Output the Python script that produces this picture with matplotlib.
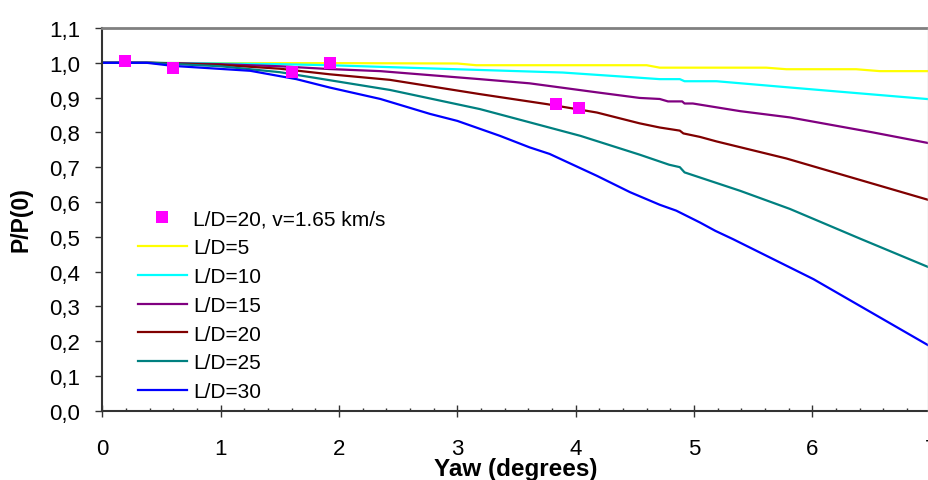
import matplotlib
matplotlib.use("Agg")
import matplotlib.pyplot as plt
from matplotlib.ticker import FuncFormatter, MultipleLocator
from matplotlib.lines import Line2D

plt.rcParams['font.family'] = ['Liberation Sans', 'DejaVu Sans']

# ---- data ----
exp_x = [0.19, 0.60, 1.60, 1.92, 3.83, 4.03]
exp_y = [1.005, 0.985, 0.973, 0.999, 0.881, 0.870]

x5 = [0, 1.0, 2.0, 3.0, 3.16, 4.6, 4.71, 5.61, 5.78, 6.37, 6.57, 7.0]
y5 = [1.0, 0.999, 0.999, 0.998, 0.993, 0.993, 0.986, 0.986, 0.9815, 0.9815, 0.976, 0.976]

x10 = [0, 0.4, 1.0, 1.5, 1.92, 3.13, 3.89, 4.54, 4.71, 4.88, 4.92, 5.19, 5.81, 7.0]
y10 = [1.0, 1.0, 0.998, 0.996, 0.993, 0.98, 0.972, 0.957, 0.953, 0.953, 0.947, 0.947, 0.929, 0.895]

x15 = [0, 0.4, 1.0, 1.5, 1.92, 2.35, 3.19, 3.61, 4.18, 4.54, 4.71, 4.78, 4.9, 4.92, 4.99, 5.39, 5.81, 6.51, 7.0]
y15 = [1.0, 1.0, 0.996, 0.99, 0.982, 0.976, 0.953, 0.941, 0.915, 0.899, 0.896, 0.889, 0.889, 0.883, 0.883, 0.861, 0.843, 0.800, 0.768]

x20 = [0, 0.4, 1.0, 1.5, 1.92, 2.43, 3.19, 3.76, 4.18, 4.54, 4.71, 4.88, 4.91, 5.05, 5.19, 5.78, 7.0]
y20 = [1.0, 1.0, 0.994, 0.983, 0.967, 0.951, 0.910, 0.881, 0.857, 0.826, 0.814, 0.805, 0.797, 0.787, 0.774, 0.725, 0.604]

x25 = [0, 0.4, 1.0, 1.5, 1.92, 2.43, 3.19, 3.61, 4.04, 4.54, 4.79, 4.88, 4.92, 5.39, 5.81, 6.40, 7.0]
y25 = [1.0, 1.0, 0.99, 0.973, 0.950, 0.922, 0.867, 0.829, 0.790, 0.736, 0.707, 0.700, 0.685, 0.632, 0.580, 0.495, 0.410]

x30 = [0, 0.375, 0.6, 1.25, 1.64, 1.92, 2.35, 2.77, 3.0, 3.36, 3.61, 3.78, 4.18, 4.46, 4.71, 4.85, 5.05, 5.18, 5.33, 6.01, 7.0]
y30 = [1.0, 1.0, 0.991, 0.977, 0.953, 0.929, 0.896, 0.853, 0.833, 0.790, 0.757, 0.738, 0.675, 0.628, 0.592, 0.575, 0.541, 0.517, 0.493, 0.378, 0.184]

series = [
    ("L/D=5", x5, y5, "#FFFF00"),
    ("L/D=10", x10, y10, "#00FFFF"),
    ("L/D=15", x15, y15, "#800080"),
    ("L/D=20", x20, y20, "#800000"),
    ("L/D=25", x25, y25, "#008080"),
    ("L/D=30", x30, y30, "#0000FF"),
]

W, H = 929, 481
fig = plt.figure(figsize=(W / 100, H / 100), dpi=100)
ax_left, ax_right_px = 102.3, 930.7
ax_top, ax_bot = 29.0, 411.7
ax = fig.add_axes([ax_left / W, 1 - ax_bot / H, (ax_right_px - ax_left) / W, (ax_bot - ax_top) / H])

ax.plot(exp_x, exp_y, linestyle="none", marker="s", markersize=8.5,
        color="#FF00FF", markeredgewidth=0, label="L/D=20, v=1.65 km/s", zorder=5)
for lab, xs, ys, c in series:
    ax.plot(xs, ys, color=c, lw=1.6, label=lab)

ax.set_xlim(0, 7)
ax.set_ylim(0, 1.1)

fmt = FuncFormatter(lambda v, p: f"{v:.1f}".replace(".", ","))
ax.yaxis.set_major_locator(MultipleLocator(0.1))
ax.yaxis.set_major_formatter(fmt)
ax.xaxis.set_major_locator(MultipleLocator(1))
ax.xaxis.set_minor_locator(MultipleLocator(0.2))

ax.tick_params(axis="y", which="major", direction="out", length=5, width=1,
               color="#333333", labelsize=16, pad=11)
ax.tick_params(axis="x", which="major", direction="inout", length=8.6, width=1,
               color="#333333", labelsize=16, pad=15)
ax.tick_params(axis="x", which="minor", direction="in", length=2.5, width=1, color="#333333")

for s in ["left", "bottom"]:
    ax.spines[s].set_color("#333333")
    ax.spines[s].set_linewidth(1.5)
ax.spines["top"].set_color("#808080")
ax.spines["top"].set_linewidth(2)
ax.spines["right"].set_visible(False)

fig.add_artist(Line2D([928.3 / W, 928.3 / W], [1 - ax_top / H, 1 - ax_bot / H],
                      color="#d0d0d0", lw=1))

fig.text(516 / W, 1 - 470 / H, "Yaw (degrees)", ha="center", va="center",
         fontsize=17.5, fontweight="bold")
fig.text(20.5 / W, 1 - 220 / H, "P/P(0)", ha="center", va="center",
         fontsize=16.5, fontweight="bold", rotation=90)

leg = ax.legend(loc="upper left", bbox_to_anchor=(137.7 / W, 1 - 210.5 / H),
                bbox_transform=fig.transFigure, frameon=False, fontsize=15,
                borderpad=0, borderaxespad=0, handlelength=2.36, handletextpad=0.3,
                labelspacing=0.47, numpoints=1)

fig.savefig("out.png", dpi=100)
